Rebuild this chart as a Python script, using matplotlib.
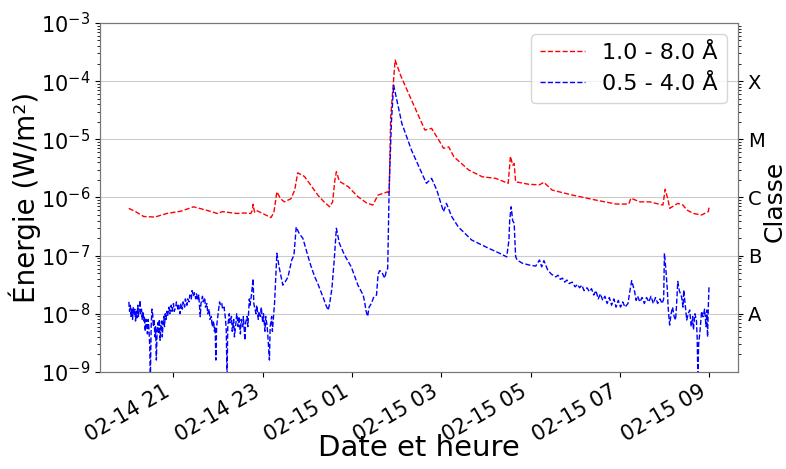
import pandas as pd
import numpy as np
import matplotlib
matplotlib.use("Agg")
import matplotlib.pyplot as plt
import matplotlib.dates as mdates

# GOES X-ray flux, 2011-02-14 20:00 -> 2011-02-15 09:00 (minutes since start)
t0 = pd.Timestamp("2011-02-14 20:00")

# long channel 1.0 - 8.0 A
long_min = [0, 10, 20, 35, 51, 70, 87, 105, 119, 126, 135, 146, 155, 164, 166, 167, 169, 171,
            180, 191, 195, 199, 204, 209, 218, 223, 227, 236, 245, 254, 262, 270, 274, 277,
            279, 283, 295, 308, 320, 328, 335, 344, 348, 350, 352, 358, 366, 376, 385, 394,
            398, 407, 418, 423, 430, 437, 457, 475, 493, 510, 513, 516, 518, 520, 538, 552,
            558, 569, 596, 628, 655, 672, 675, 687, 700, 718, 721, 725, 727, 738, 745, 750,
            759, 770, 779, 780]
long_flux = [6.5e-7, 5.6e-7, 4.7e-7, 4.6e-7, 5.3e-7, 5.8e-7, 6.9e-7, 6.0e-7, 5.3e-7, 5.7e-7,
             5.5e-7, 5.3e-7, 5.4e-7, 5.3e-7, 6.0e-7, 7.6e-7, 5.6e-7, 6.0e-7, 5.3e-7, 4.5e-7,
             5.5e-7, 1.25e-6, 9.5e-7, 8.4e-7, 9.5e-7, 1.34e-6, 2.65e-6, 2.3e-6, 1.6e-6, 1.1e-6,
             8.5e-7, 6.9e-7, 8.4e-7, 2.0e-6, 2.77e-6, 1.9e-6, 1.53e-6, 1.03e-6, 8.0e-7, 7.4e-7,
             1.1e-6, 1.2e-6, 1.25e-6, 1.15e-6, 2.4e-5, 2.3e-4, 1.2e-4, 6.15e-5, 3.4e-5, 1.88e-5,
             1.44e-5, 1.54e-5, 9.1e-6, 7.0e-6, 7.4e-6, 5.0e-6, 2.96e-6, 2.27e-6, 2.13e-6, 1.75e-6,
             5.1e-6, 3.6e-6, 3.85e-6, 1.86e-6, 1.68e-6, 1.65e-6, 1.82e-6, 1.34e-6, 1.1e-6, 9.0e-7,
             7.7e-7, 7.7e-7, 9.7e-7, 8.4e-7, 8.4e-7, 7.4e-7, 1.38e-6, 9.0e-7, 6.5e-7, 7.9e-7,
             7.4e-7, 6.1e-7, 5.3e-7, 5.0e-7, 5.7e-7, 6.9e-7]

# short channel 0.5 - 4.0 A
short_min = [0, 1, 2, 3, 4, 5, 6, 7, 8, 9, 10, 11, 12, 13, 14, 15, 16, 17, 18, 19, 20, 21, 22,
             23, 24, 25, 26, 27, 28, 29, 30, 31, 32, 33, 34, 35, 36, 37, 38, 39, 40, 41, 42, 43,
             44, 45, 46, 47, 48, 49, 50, 51, 52, 54, 55, 57, 58, 60, 61, 63, 64, 66, 67, 69, 70,
             72, 73, 75, 76, 78, 79, 81, 82, 84, 85, 87, 88, 90, 91, 93, 94, 96, 97, 99, 100,
             102, 103, 105, 106, 108, 109, 111, 112, 114, 115, 116, 117, 118, 120, 122, 123, 125,
             126, 128, 129, 130, 131, 132, 133, 135, 136, 138, 139, 141, 142, 144, 145, 147, 148,
             150, 151, 153, 154, 156, 157, 159, 160, 162, 163, 165, 167, 168, 169, 171, 172, 174,
             175, 177, 178, 180, 181, 183, 184, 186, 187, 189, 190, 192, 193, 195, 196, 199, 202,
             207, 210, 214, 219, 222, 225, 229, 234, 241, 245, 250, 254, 259, 262, 265, 268, 270,
             273, 276, 279, 283, 290, 299, 308, 315, 317, 319, 321, 323, 326, 329, 333, 335, 337,
             340, 342, 344, 346, 348, 350, 353, 356, 367, 380, 394, 400, 407, 414, 423, 427, 434,
             443, 461, 484, 497, 508, 511, 512, 514, 516, 518, 520, 522, 529, 538, 547, 552, 555,
             558, 563, 568, 574, 577, 580, 583, 586, 589, 592, 596, 600, 603, 606, 609, 612, 616,
             619, 622, 625, 628, 631, 634, 637, 640, 643, 646, 649, 652, 655, 658, 661, 664, 667,
             671, 673, 676, 678, 680, 682, 684, 687, 690, 693, 696, 699, 702, 705, 708, 711, 714,
             717, 719, 720, 721, 722, 724, 725, 727, 729, 731, 733, 735, 736, 738, 740, 743, 745,
             746, 748, 750, 752, 754, 756, 758, 759, 761, 763, 764, 765, 766, 768, 770, 772, 774,
             776, 777, 778, 779, 780]
short_flux = [1.6e-8, 1.1e-8, 1.4e-8, 9e-9, 1.2e-8, 8e-9, 1.3e-8, 9.5e-9, 1.2e-8, 7.5e-9, 1.1e-8,
              8.5e-9, 1.4e-8, 9e-9, 1.2e-8, 1.7e-8, 1.0e-8, 1.2e-8, 8e-9, 1.1e-8, 7.5e-9, 9e-9,
              5e-9, 8e-9, 6.5e-9, 4.5e-9, 8e-9, 5.5e-9, 3e-9, 8e-10, 6e-9, 1.2e-8, 1.0e-8, 6e-9,
              8e-9, 4e-9, 6e-9, 1.6e-9, 5e-9, 7e-9, 4.5e-9, 8e-9, 3.5e-9, 6e-9, 7.5e-9, 4e-9, 7e-9,
              9e-9, 6e-9, 1.0e-8, 8e-9, 1.1e-8, 9e-9, 1.3e-8, 1.0e-8, 1.4e-8, 1.1e-8, 1.5e-8,
              1.1e-8, 1.3e-8, 1.6e-8, 1.2e-8, 1.4e-8, 1.0e-8, 1.5e-8, 1.2e-8, 1.6e-8, 1.3e-8,
              1.8e-8, 1.4e-8, 1.8e-8, 1.6e-8, 2.1e-8, 1.8e-8, 2.5e-8, 2.0e-8, 2.3e-8, 1.8e-8,
              2.2e-8, 1.7e-8, 2.1e-8, 8.9e-9, 1.5e-8, 2.0e-8, 1.6e-8, 1.9e-8, 1.3e-8, 1.5e-8,
              1.0e-8, 1.2e-8, 8e-9, 9e-9, 6e-9, 7.5e-9, 5e-9, 6e-9, 1.6e-9, 6e-9, 1.0e-8, 1.6e-8,
              1.4e-8, 1.5e-8, 1.2e-8, 1.3e-8, 1.0e-8, 8e-9, 5e-9, 8e-10, 6e-9, 1.0e-8, 7e-9, 9e-9,
              5e-9, 8e-9, 4e-9, 7e-9, 1.0e-8, 6e-9, 9e-9, 4.5e-9, 8e-9, 6e-9, 9e-9, 3.5e-9, 7e-9,
              9e-9, 6e-9, 1.8e-8, 1.4e-8, 2.2e-8, 4.0e-8, 1.5e-8, 1.3e-8, 1.0e-8, 1.4e-8, 8e-9,
              1.1e-8, 9e-9, 1.3e-8, 7e-9, 1.0e-8, 5e-9, 9e-9, 6e-9, 4e-9, 1.6e-9, 6e-9, 9e-9,
              5e-9, 1.1e-8, 1.6e-8, 1.1e-7, 6.4e-8, 3.1e-8, 3.5e-8, 4.3e-8, 8.4e-8, 1.02e-7,
              3.1e-7, 2.4e-7, 1.98e-7, 9.6e-8, 6.5e-8, 4.3e-8, 3.3e-8, 2.25e-8, 1.8e-8, 1.4e-8,
              1.15e-8, 1.5e-8, 2.74e-8, 8e-8, 2.95e-7, 1.63e-7, 1.02e-7, 6.4e-8, 3.1e-8, 2.1e-8,
              1.6e-8, 1.1e-8, 9e-9, 1.3e-8, 1.5e-8, 1.9e-8, 2.1e-8, 4.65e-8, 5.5e-8, 5.3e-8,
              4.6e-8, 4.1e-8, 5.3e-8, 6e-8, 1.5e-6, 2.0e-5, 8.5e-5, 1.88e-5, 6.5e-6, 2.6e-6,
              1.75e-6, 2.13e-6, 1.34e-6, 5.7e-7, 7.9e-7, 4.7e-7, 3.1e-7, 1.85e-7, 1.33e-7, 1.12e-7,
              9.5e-8, 1.85e-7, 4.1e-7, 6.9e-7, 4.0e-7, 3.6e-7, 9.6e-8, 8.4e-8, 7.4e-8, 6.9e-8,
              6.6e-8, 8.4e-8, 6.4e-8, 8.2e-8, 5.7e-8, 4.8e-8, 4.3e-8, 4.6e-8, 3.9e-8, 4.1e-8,
              3.5e-8, 3.8e-8, 3.3e-8, 3.5e-8, 2.9e-8, 3.2e-8, 2.8e-8, 3.1e-8, 2.5e-8, 2.8e-8,
              2.4e-8, 2.7e-8, 2.1e-8, 2.5e-8, 1.8e-8, 2.2e-8, 1.7e-8, 2.0e-8, 1.5e-8, 1.9e-8,
              1.4e-8, 1.8e-8, 1.3e-8, 1.7e-8, 1.3e-8, 1.6e-8, 1.3e-8, 1.5e-8, 2.2e-8, 3.7e-8,
              3.0e-8, 2.4e-8, 1.7e-8, 2.0e-8, 1.6e-8, 1.9e-8, 1.5e-8, 1.9e-8, 1.6e-8, 2.0e-8,
              1.5e-8, 1.9e-8, 1.5e-8, 1.8e-8, 1.5e-8, 1.8e-8, 1.1e-7, 8e-8, 5.7e-8, 2.5e-8,
              1.3e-8, 6.4e-9, 1.0e-8, 1.3e-8, 9e-9, 7.8e-9, 1.2e-8, 3.6e-8, 2.5e-8, 1.97e-8,
              1.3e-8, 2.56e-8, 1.4e-8, 7.8e-9, 1.0e-8, 1.16e-8, 6e-9, 9e-9, 5.3e-9, 1.0e-8,
              7.8e-9, 4e-9, 8e-10, 3e-9, 5.3e-9, 1.1e-8, 8.9e-9, 1.2e-8, 6e-9, 1.16e-8, 4e-9,
              1.3e-8, 3.0e-8]

class_levels = [1e-8, 1e-7, 1e-6, 1e-5, 1e-4]
class_labels = ["A", "B", "C", "M", "X"]

long_t = t0 + pd.to_timedelta(long_min, unit="min")
short_t = t0 + pd.to_timedelta(short_min, unit="min")

fig = plt.figure(figsize=(7.86, 4.69), dpi=100)
ax = fig.add_axes([0.127, 0.207, 0.812, 0.744])

ax.plot(long_t, long_flux, color="red", ls="--", lw=1, label="1.0 - 8.0 Å")
ax.plot(short_t, short_flux, color="blue", ls="--", lw=1, label="0.5 - 4.0 Å")

ax.set_yscale("log")
ax.set_ylim(1e-9, 1e-3)
ax.yaxis.grid(True, which="major", color="#cccccc", lw=0.8)
ax.set_ylabel("Énergie (W/m²)", fontsize=20)
ax.yaxis.set_label_coords(-0.092, 0.5)
ax.set_xlabel("Date et heure", fontsize=21)
ax.xaxis.set_label_coords(0.5, -0.178)
ax.tick_params(axis="both", labelsize=15)

ax.xaxis.set_major_locator(mdates.HourLocator(byhour=range(1, 24, 2)))
ax.xaxis.set_major_formatter(mdates.DateFormatter("%m-%d %H"))
plt.setp(ax.get_xticklabels(), rotation=30, ha="right", fontsize=15)

ax.legend(loc="upper right", fontsize=16)

ax2 = ax.twinx()
ax2.set_yscale("log")
ax2.set_ylim(1e-9, 1e-3)
ax2.set_yticks(class_levels)
ax2.set_yticklabels(class_labels)
ax2.tick_params(axis="y", labelsize=14)
ax2.set_ylabel("Classe", fontsize=18)
ax2.yaxis.set_label_coords(1.038, 0.49)

for a in (ax, ax2):
    for s in a.spines.values():
        s.set_color("#777777")

fig.savefig("out.png", dpi=100)
